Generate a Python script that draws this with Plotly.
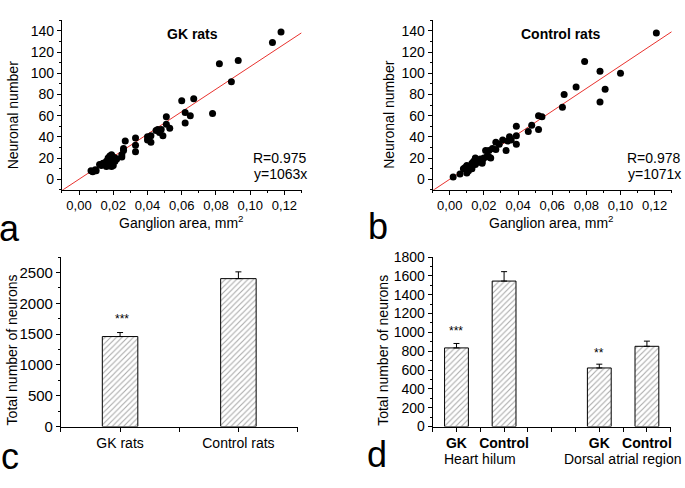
import plotly.graph_objects as go

# ---- data ----
gk_area = [0.007, 0.008, 0.0095, 0.010, 0.012, 0.013, 0.014, 0.015, 0.016, 0.016,
           0.017, 0.017, 0.018, 0.018, 0.018, 0.019, 0.019, 0.019, 0.020, 0.020,
           0.020, 0.021, 0.021, 0.022, 0.025, 0.025, 0.026, 0.026, 0.027, 0.033,
           0.033, 0.033, 0.040, 0.040, 0.042, 0.042, 0.045, 0.046, 0.047, 0.048,
           0.049, 0.051, 0.051, 0.053, 0.060, 0.062, 0.062, 0.065, 0.067, 0.078,
           0.082, 0.089, 0.093, 0.113, 0.118]
gk_neurons = [8, 7, 9, 8, 14, 13, 15, 14, 17, 12,
              16, 20, 22, 14, 18, 12, 23, 16, 13, 19,
              21, 17, 20, 19, 21, 23, 27, 29, 36, 26,
              32, 39, 40, 37, 35, 41, 46, 47, 44, 47,
              41, 52, 59, 48, 74, 63, 53, 60, 76, 62,
              109, 92, 112, 129, 139]

ctrl_area = [0.002, 0.006, 0.008, 0.009, 0.010, 0.010, 0.011, 0.012, 0.013, 0.013,
             0.014, 0.015, 0.015, 0.016, 0.017, 0.018, 0.019, 0.019, 0.020, 0.021,
             0.022, 0.023, 0.023, 0.024, 0.025, 0.027, 0.027, 0.029, 0.031, 0.033,
             0.034, 0.035, 0.036, 0.039, 0.039, 0.039, 0.046, 0.048, 0.052, 0.052,
             0.054, 0.066, 0.067, 0.074, 0.079, 0.088, 0.088, 0.091, 0.100, 0.121]
ctrl_neurons = [2, 5, 10, 11, 13, 6, 8, 12, 15, 10,
                17, 14, 20, 18, 16, 19, 15, 17, 20, 27,
                22, 21, 27, 20, 29, 28, 35, 33, 37, 27,
                36, 40, 37, 50, 41, 33, 45, 51, 60, 47,
                59, 68, 80, 87, 111, 73, 102, 85, 100, 138]

gk_slope, ctrl_slope = 1063, 1071
fit_x = [-0.01, 0.13]

total_groups = ["GK rats", "Control rats"]
total_pos = [1, 2]
total_mean = [1460, 2400]
total_err = [65, 110]

region_labels = ["GK", "Control", "GK", "Control"]
region_pos = [1, 2, 4, 5]
region_mean = [835, 1545, 622, 852]
region_err = [47, 100, 40, 55]

W, H = 685, 488
FONT = "Arial, Liberation Sans, sans-serif"


def px_x(p):
    return p / W


def px_y(p):
    return 1 - p / H


def axis(domain, rng, tickfont=13, **kw):
    d = dict(domain=domain, range=rng, showline=True, linecolor="black", linewidth=1,
             ticks="outside", ticklen=4, tickcolor="black", showgrid=False,
             zeroline=False, tickfont=dict(size=tickfont, color="black", family=FONT))
    d.update(kw)
    return d


fig = go.Figure()

# scatter panels
for area, neur, slope, xa, ya in [(gk_area, gk_neurons, gk_slope, "x", "y"),
                                  (ctrl_area, ctrl_neurons, ctrl_slope, "x2", "y2")]:
    fig.add_trace(go.Scatter(x=fit_x, y=[slope * v for v in fit_x], mode="lines",
                             line=dict(color="#e8322e", width=1), xaxis=xa, yaxis=ya))
    fig.add_trace(go.Scatter(x=area, y=neur, mode="markers",
                             marker=dict(color="black", size=7), xaxis=xa, yaxis=ya))

hatch = dict(shape="/", fgcolor="#555555", bgcolor="white", size=4, solidity=0.28)

fig.add_trace(go.Bar(x=total_pos, y=total_mean, width=0.3, xaxis="x3", yaxis="y3",
                     marker=dict(color="white", pattern=hatch,
                                 line=dict(color="black", width=1)),
                     error_y=dict(type="data", symmetric=False, array=total_err,
                                  arrayminus=[0] * len(total_err), color="black",
                                  thickness=1, width=3)))

fig.add_trace(go.Bar(x=region_pos, y=region_mean, width=0.5, xaxis="x4", yaxis="y4",
                     marker=dict(color="white", pattern=hatch,
                                 line=dict(color="black", width=1)),
                     error_y=dict(type="data", symmetric=False, array=region_err,
                                  arrayminus=[0] * len(region_err), color="black",
                                  thickness=1, width=3)))

top_y = [px_y(188), px_y(12.7)]
bot_y = [px_y(432.7), px_y(257.5)]

fig.update_layout(
    width=W, height=H, autosize=False, margin=dict(l=0, r=0, t=0, b=0),
    paper_bgcolor="white", plot_bgcolor="white", showlegend=False,
    separators=", ", font=dict(family=FONT, color="black"),
    xaxis=axis([px_x(62), px_x(302)], [-0.01, 0.13], tickvals=[0, 0.02, 0.04, 0.06, 0.08, 0.1, 0.12],
               tickformat=".2f", minor=dict(ticks="outside", ticklen=2, dtick=0.01, tickcolor="black")),
    yaxis=axis(top_y, [-10, 150], anchor="x", dtick=20, tick0=0, tickfont=14,
               minor=dict(ticks="outside", ticklen=2, dtick=10, tickcolor="black")),
    xaxis2=axis([px_x(433.3), px_x(672.7)], [-0.01, 0.13], anchor="y2",
                tickvals=[0, 0.02, 0.04, 0.06, 0.08, 0.1, 0.12], tickformat=".2f",
                minor=dict(ticks="outside", ticklen=2, dtick=0.01, tickcolor="black")),
    yaxis2=axis(top_y, [-10, 150], anchor="x2", dtick=20, tick0=0, tickfont=14,
                minor=dict(ticks="outside", ticklen=2, dtick=10, tickcolor="black")),
    xaxis3=axis([px_x(61), px_x(298)], [0.5, 2.5], anchor="y3", tickfont=14,
                tickvals=total_pos, ticktext=total_groups,
                minor=dict(ticks="outside", ticklen=4, dtick=0.5, tick0=0.5, tickcolor="black")),
    yaxis3=axis(bot_y, [0, 2750], anchor="x3", tickfont=15, dtick=500,
                minor=dict(ticks="outside", ticklen=2, dtick=250, tickcolor="black")),
    xaxis4=axis([px_x(433.3), px_x(671.7)], [0.5, 5.5], anchor="y4", tickfont=14,
                tickvals=region_pos, ticktext=["<b>%s</b>" % t for t in region_labels],
                minor=dict(ticks="outside", ticklen=4, dtick=0.5, tick0=0.5, tickcolor="black")),
    yaxis4=axis(bot_y, [0, 1800], anchor="x4", tickfont=14, dtick=200,
                minor=dict(ticks="outside", ticklen=2, dtick=100, tickcolor="black")),
)

ann = []


def note(text, x, y, size=14, **kw):
    d = dict(text=text, x=px_x(x), y=px_y(y), xref="paper", yref="paper",
             xanchor="center", yanchor="middle", showarrow=False,
             font=dict(size=size, color="black", family=FONT))
    d.update(kw)
    ann.append(d)


# panel titles and fit results
note("<b>GK rats</b>", 193, 27)
note("<b>Control rats</b>", 562, 27)
note("R=0.975", 309, 155, xanchor="right")
note("y=1063x", 309, 172, xanchor="right")
note("R=0.978", 684, 155, xanchor="right")
note("y=1071x", 684, 172, xanchor="right")

# axis titles
note("Ganglion area, mm<sup>2</sup>", 182, 221)
note("Ganglion area, mm<sup>2</sup>", 552, 221)
note("Neuronal number", 13, 110, textangle=-90)
note("Neuronal number", 390, 110, textangle=-90)
note("Total number of neurons", 12, 353, textangle=-90)
note("Total number of neurons", 384, 354, textangle=-90)
note("Heart hilum", 481, 466)
note("Dorsal atrial region", 624, 466)

# significance marks
note("***", 122, 322, size=12)
note("***", 457, 334, size=12)
note("**", 600, 357, size=12)

# panel letters
note("a", 10, 228, size=36)
note("b", 379, 226, size=36)
note("c", 10, 464, size=36)
note("d", 378, 462, size=36)

fig.update_layout(annotations=ann)

fig.write_html("out.html", config={"displayModeBar": False},
               post_script="document.body.style.margin='0';")
